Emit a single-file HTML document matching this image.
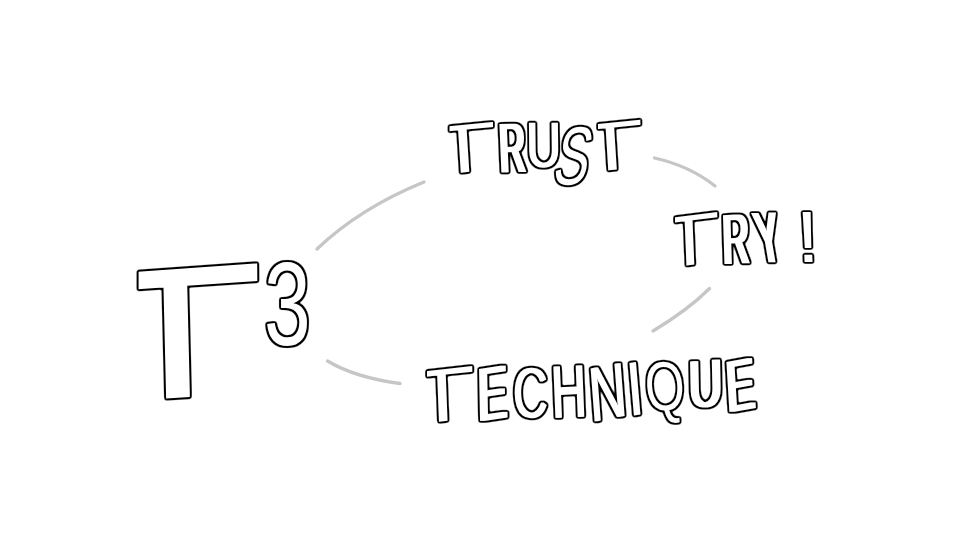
<!DOCTYPE html>
<html lang="en">
<head>
<meta charset="utf-8">
<title>T3: Trust, Try, Technique</title>
<style>
html,body{margin:0;padding:0;background:#fff;}
body{width:960px;height:540px;overflow:hidden;}
svg{display:block;}
text{font-family:"Liberation Sans",sans-serif;font-size:100px;fill:#fff;}
text.b{font-weight:bold;}
.arcs path{fill:none;stroke:#c6c6c6;stroke-width:3.3;stroke-linecap:round;}
</style>
</head>
<body>
<svg width="960" height="540" viewBox="0 0 960 540" role="img" aria-label="T3: Trust, Try!, Technique">
<defs>
<filter id="f00_20" x="-30%" y="-30%" width="160%" height="160%" color-interpolation-filters="sRGB"><feMorphology in="SourceAlpha" operator="dilate" radius="1" result="d1"/><feGaussianBlur in="d1" stdDeviation="0.8" result="b1"/><feComponentTransfer in="b1" result="ringA"><feFuncA type="linear" slope="3.17" intercept="-0.281"/></feComponentTransfer><feFlood flood-color="#000"/><feComposite in2="ringA" operator="in" result="ring"/><feFlood flood-color="#fff"/><feComposite in2="SourceAlpha" operator="in" result="fill"/><feMerge><feMergeNode in="ring"/><feMergeNode in="fill"/></feMerge></filter>
<filter id="f00_21" x="-30%" y="-30%" width="160%" height="160%" color-interpolation-filters="sRGB"><feMorphology in="SourceAlpha" operator="dilate" radius="1" result="d1"/><feGaussianBlur in="d1" stdDeviation="0.8" result="b1"/><feComponentTransfer in="b1" result="ringA"><feFuncA type="linear" slope="3.49" intercept="-0.226"/></feComponentTransfer><feFlood flood-color="#000"/><feComposite in2="ringA" operator="in" result="ring"/><feFlood flood-color="#fff"/><feComposite in2="SourceAlpha" operator="in" result="fill"/><feMerge><feMergeNode in="ring"/><feMergeNode in="fill"/></feMerge></filter>
<filter id="f10_20" x="-30%" y="-30%" width="160%" height="160%" color-interpolation-filters="sRGB"><feMorphology in="SourceAlpha" operator="dilate" radius="1 0" result="fat"/><feMorphology in="fat" operator="dilate" radius="1" result="d1"/><feGaussianBlur in="d1" stdDeviation="0.8" result="b1"/><feComponentTransfer in="b1" result="ringA"><feFuncA type="linear" slope="3.17" intercept="-0.281"/></feComponentTransfer><feFlood flood-color="#000"/><feComposite in2="ringA" operator="in" result="ring"/><feFlood flood-color="#fff"/><feComposite in2="fat" operator="in" result="fill"/><feMerge><feMergeNode in="ring"/><feMergeNode in="fill"/></feMerge></filter>
<filter id="f11_20" x="-30%" y="-30%" width="160%" height="160%" color-interpolation-filters="sRGB"><feMorphology in="SourceAlpha" operator="dilate" radius="1 1" result="fat"/><feMorphology in="fat" operator="dilate" radius="1" result="d1"/><feGaussianBlur in="d1" stdDeviation="0.8" result="b1"/><feComponentTransfer in="b1" result="ringA"><feFuncA type="linear" slope="3.17" intercept="-0.281"/></feComponentTransfer><feFlood flood-color="#000"/><feComposite in2="ringA" operator="in" result="ring"/><feFlood flood-color="#fff"/><feComposite in2="fat" operator="in" result="fill"/><feMerge><feMergeNode in="ring"/><feMergeNode in="fill"/></feMerge></filter>
<filter id="f20_20" x="-30%" y="-30%" width="160%" height="160%" color-interpolation-filters="sRGB"><feMorphology in="SourceAlpha" operator="dilate" radius="2 0" result="fat"/><feMorphology in="fat" operator="dilate" radius="1" result="d1"/><feGaussianBlur in="d1" stdDeviation="0.8" result="b1"/><feComponentTransfer in="b1" result="ringA"><feFuncA type="linear" slope="3.17" intercept="-0.281"/></feComponentTransfer><feFlood flood-color="#000"/><feComposite in2="ringA" operator="in" result="ring"/><feFlood flood-color="#fff"/><feComposite in2="fat" operator="in" result="fill"/><feMerge><feMergeNode in="ring"/><feMergeNode in="fill"/></feMerge></filter>
<filter id="fm10_20" x="-30%" y="-30%" width="160%" height="160%" color-interpolation-filters="sRGB"><feMorphology in="SourceAlpha" operator="erode" radius="1 0" result="thin"/><feMorphology in="thin" operator="dilate" radius="1" result="d1"/><feGaussianBlur in="d1" stdDeviation="0.8" result="b1"/><feComponentTransfer in="b1" result="ringA"><feFuncA type="linear" slope="3.17" intercept="-0.281"/></feComponentTransfer><feFlood flood-color="#000"/><feComposite in2="ringA" operator="in" result="ring"/><feFlood flood-color="#fff"/><feComposite in2="thin" operator="in" result="fill"/><feMerge><feMergeNode in="ring"/><feMergeNode in="fill"/></feMerge></filter>
<filter id="fm22_21" x="-30%" y="-30%" width="160%" height="160%" color-interpolation-filters="sRGB"><feMorphology in="SourceAlpha" operator="erode" radius="2 0" result="thin"/><feMorphology in="thin" operator="dilate" radius="0 2" result="fat"/><feMorphology in="fat" operator="dilate" radius="1" result="d1"/><feGaussianBlur in="d1" stdDeviation="0.8" result="b1"/><feComponentTransfer in="b1" result="ringA"><feFuncA type="linear" slope="3.49" intercept="-0.226"/></feComponentTransfer><feFlood flood-color="#000"/><feComposite in2="ringA" operator="in" result="ring"/><feFlood flood-color="#fff"/><feComposite in2="fat" operator="in" result="fill"/><feMerge><feMergeNode in="ring"/><feMergeNode in="fill"/></feMerge></filter>
<clipPath id="c1"><rect x="448.5" y="0.0" width="45.5" height="540.0"/></clipPath>
<clipPath id="c2"><rect x="597.0" y="0.0" width="44.5" height="540.0"/></clipPath>
<clipPath id="c3"><rect x="674.0" y="0.0" width="44.5" height="540.0"/></clipPath>
<clipPath id="c4"><rect x="426.0" y="0.0" width="47.5" height="540.0"/></clipPath>
<clipPath id="c5"><rect x="136.6" y="0.0" width="122.8" height="540.0"/></clipPath>
</defs>
<rect width="960" height="540" fill="#fff"/>
<g class="arcs"><path d="M317 249 Q 360 208 424 182"/><path d="M654.5 158 Q 690 166 715 186"/><path d="M709.5 288.5 Q 688 310 653 331"/><path d="M327.5 361 Q 355 377.5 400 383.5"/></g>
<g class="word" aria-label="TRUST"><g filter="url(#fm10_20)"><g clip-path="url(#c1)"><text transform="matrix(1.1319 -0.1106 0.0436 0.6915 430.46 175.87)">T</text></g></g><g filter="url(#f20_20)"><text transform="matrix(0.3537 -0.0084 0.0291 0.705 500.6 172.57)">R</text></g><g filter="url(#f10_20)"><text transform="matrix(0.4755 0 0.0072 0.6449 526.82 166.87)">U</text></g><g filter="url(#f00_20)"><text transform="matrix(0.5211 -0.0087 -0.1695 0.8263 550.8 184.73)">S</text></g><g filter="url(#fm10_20)"><g clip-path="url(#c2)"><text transform="matrix(1.1319 -0.113 0.0436 0.6876 577.96 173.45)">T</text></g></g></g>
<g class="word" aria-label="TRY!"><g filter="url(#fm10_20)"><g clip-path="url(#c3)"><text transform="matrix(1.0611 -0.1297 0.0291 0.72 658.12 268.96)">T</text></g></g><g filter="url(#f20_20)"><text transform="matrix(0.3621 -0.0168 0.0218 0.7122 723.53 264.14)">R</text><text transform="matrix(0.3371 -0.008 0.1235 0.7195 760.76 262.52)">Y</text></g><g filter="url(#f10_20)"><text transform="matrix(0.6206 0 0.0291 0.7268 799.89 261.5)">!</text></g></g>
<g class="word" aria-label="TECHNIQUE"><g filter="url(#fm10_20)"><g clip-path="url(#c4)"><text transform="matrix(1.139 -0.1257 0.0291 0.755 408.54 425.34)">T</text></g></g><g filter="url(#f20_20)"><text transform="matrix(0.4336 -0.0646 0.0145 0.7558 478.44 421.53)">E</text></g><g filter="url(#f10_20)"><text transform="matrix(0.4737 -0.0079 0.0071 0.7133 513.59 417.84)">C</text></g><g filter="url(#f11_20)"><text transform="matrix(0.4798 -0.0215 0.0291 0.7195 552.56 417.18)">H</text></g><g filter="url(#f10_20)"><text transform="matrix(0.5013 -0.0985 0.0581 0.7704 591.39 422.31)">N</text></g><g filter="url(#f00_20)"><text transform="matrix(0.697 -0.1072 0.0654 0.7631 627.57 416.49)">I</text><text transform="matrix(0.5127 0 0.0353 0.6921 646.04 410.32)">Q</text></g><g filter="url(#f20_20)"><text transform="matrix(0.4579 -0.0352 0.0143 0.6736 689.45 408.11)">U</text><text transform="matrix(0.4151 -0.0738 0.0436 0.7268 728.09 412.61)">E</text></g></g>
<g class="word" aria-label="T3"><g filter="url(#fm22_21)"><g clip-path="url(#c5)"><text transform="matrix(2.9853 -0.2065 0.0436 1.8163 86.89 402.2)">T</text></g></g><g filter="url(#f00_21)"><text transform="matrix(0.8394 0 0 1.1907 263.9 345.24)">3</text></g></g>
</svg>
</body>
</html>
